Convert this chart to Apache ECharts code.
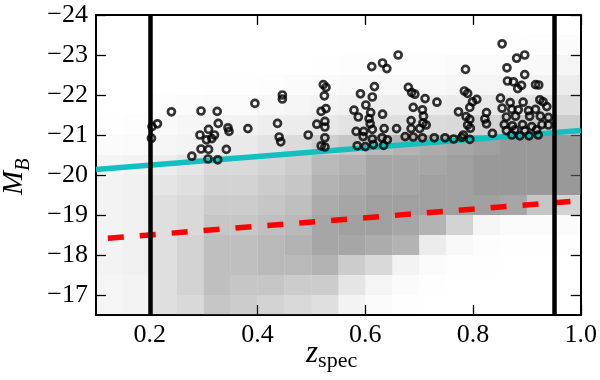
<!DOCTYPE html>
<html>
<head>
<meta charset="utf-8">
<script src="https://cdn.jsdelivr.net/npm/echarts@6/dist/echarts.min.js"></script>
<style>
html,body{margin:0;padding:0;background:#fff;}
#chart{width:600px;height:380px;}
</style>
</head>
<body>
<div id="chart"></div>
<script>
// ---- data ----
const xTicks = [0.2, 0.4, 0.6, 0.8, 1.0];
const yTicks = [-24, -23, -22, -21, -20, -19, -18, -17];

// vertical cut lines (z_spec)
const cutZ = [0.2, 0.95];

// cyan solid relation
const cyanZ = [0.1, 1.0];
const cyanM = [-20.14, -21.11];

// red dashed relation
const redZ = [0.122, 1.0];
const redM = [-18.42, -19.36];

// open circles (selected bright galaxies)
const circleZ = [0.204,0.214,0.203,0.240,0.295,0.325,0.327,0.309,0.293,0.315,0.320,0.305,0.345,0.347,0.382,0.395,0.295,0.309,0.342,0.278,0.308,0.326,
0.437,0.446,0.446,0.440,0.443,0.494,0.522,0.527,0.524,0.518,0.527,0.510,0.525,0.525,0.525,0.518,0.525,
0.612,0.632,0.640,0.661,0.591,0.617,0.613,0.579,0.601,0.610,0.632,0.587,0.607,0.609,0.583,0.597,0.613,0.635,0.596,0.613,0.631,0.641,0.585,0.600,0.615,0.634,0.658,
0.680,0.686,0.692,0.711,0.733,0.689,0.706,0.708,0.685,0.707,0.713,0.685,0.701,0.674,0.689,0.706,0.728,0.748,0.764,0.779,0.786,
0.784,0.790,0.807,0.799,0.794,0.773,0.787,0.794,0.790,0.795,0.782,0.794,0.825,0.822,0.825,0.836,
0.854,0.881,0.896,0.863,0.896,0.864,0.875,0.883,0.890,0.916,0.922,0.851,0.869,0.893,0.924,0.930,
0.854,0.872,0.884,0.903,0.916,0.937,0.862,0.879,0.905,0.925,0.940,0.858,0.873,0.892,0.909,0.928,0.940,
0.862,0.878,0.896,0.918,0.872,0.887,0.904,0.921];
const circleM = [-21.21,-21.28,-20.92,-21.58,-21.60,-21.59,-21.29,-21.14,-21.00,-20.91,-21.00,-20.88,-21.18,-21.09,-21.16,-21.79,-20.65,-20.64,-20.64,-20.47,-20.40,-20.38,
-21.29,-22.00,-21.90,-20.95,-20.83,-21.00,-22.26,-22.19,-21.98,-21.59,-21.66,-21.27,-21.34,-21.20,-20.93,-20.73,-20.70,
-22.71,-22.80,-22.66,-23.00,-22.03,-22.21,-21.95,-21.62,-21.75,-21.56,-21.52,-21.45,-21.41,-21.28,-21.09,-21.09,-21.14,-21.16,-20.96,-20.90,-20.93,-20.88,-20.73,-20.71,-20.76,-20.74,-21.16,
-22.19,-22.06,-22.02,-21.91,-21.82,-21.69,-21.63,-21.47,-21.36,-21.30,-21.25,-21.16,-21.16,-20.96,-20.95,-20.93,-20.93,-20.93,-20.90,-20.94,-22.64,
-22.10,-22.04,-21.89,-21.83,-21.69,-21.58,-21.46,-21.39,-21.25,-21.17,-21.00,-20.89,-21.56,-21.40,-21.28,-21.04,
-23.28,-22.92,-23.00,-22.68,-22.51,-22.35,-22.33,-22.16,-22.24,-22.26,-22.25,-21.92,-21.81,-21.82,-21.88,-21.83,
-21.67,-21.64,-21.63,-21.61,-21.64,-21.71,-21.45,-21.47,-21.47,-21.47,-21.44,-21.26,-21.23,-21.26,-21.21,-21.26,-21.25,
-21.11,-21.13,-21.11,-21.13,-21.00,-20.98,-20.98,-21.00];

// density of the grey galaxy cloud, read by eye (0 = empty ... 8 = densest)
// columns: z bins starting at cloudZ (width 0.05); rows: M bins starting at cloudM (height 0.5)
const cloudZ = [0.10,0.15,0.20,0.25,0.30,0.35,0.40,0.45,0.50,0.55,0.60,0.65,0.70,0.75,0.80,0.85,0.90,0.95];
const cloudM = [-23.5,-23.0,-22.5,-22.0,-21.5,-21.0,-20.5,-20.0,-19.5,-19.0,-18.5,-18.0,-17.5,-17.0];
const cloudDensity = [
 [0,0,0,0,0,0,0,0,0,0,0,0,0,0,0,0.1,0.2,0.3],
 [0,0,0,0,0,0,0,0,0.1,0.2,0.2,0.2,0.2,0.3,0.4,0.4,0.5,0.8],
 [0,0,0,0,0.1,0.1,0.2,0.3,0.4,0.5,0.6,0.6,0.6,0.7,0.8,0.9,1.0,1.5],
 [0,0,0.2,0.3,0.4,0.4,0.6,0.8,1.0,1.2,1.4,1.4,1.5,1.6,1.8,2.0,2.2,2.5],
 [0.1,0.2,0.5,0.7,0.9,1.0,1.3,1.5,1.8,2.2,2.5,2.6,2.8,3.0,3.5,3.8,4.0,4.0],
 [0.3,0.4,0.8,1.0,1.4,1.6,2.2,2.8,3.8,4.5,5.5,6.0,6.5,7.0,7.5,8.0,8.0,8.0],
 [0.8,1.0,1.5,2.0,3.0,3.0,3.5,4.0,5.5,6.0,7.0,7.0,7.0,7.5,8.0,8.0,8.0,8.0],
 [1.0,1.2,2.0,2.5,3.5,3.5,4.0,4.5,6.0,6.5,7.0,7.0,7.5,7.5,8.0,8.0,8.0,8.0],
 [1.0,1.2,2.5,3.0,4.0,4.0,4.5,5.0,6.5,7.0,7.5,7.5,7.5,7.5,7.5,7.0,4.5,3.5],
 [1.0,1.2,2.5,3.0,4.5,4.5,5.0,5.5,7.0,7.5,7.5,7.0,6.0,3.5,0.8,0.3,0.3,0.3],
 [1.0,1.2,2.5,3.5,5.0,5.0,5.5,6.0,7.0,7.0,6.5,6.0,1.5,0.5,0.2,0.1,0.1,0.1],
 [1.0,1.2,2.5,3.5,5.0,5.0,5.5,5.5,6.0,4.0,3.0,1.0,0.3,0.1,0.1,0,0,0],
 [0.8,1.0,2.5,3.5,5.0,4.5,4.5,4.0,4.0,2.0,0.8,0.3,0.1,0,0,0,0,0],
 [0.8,1.0,2.5,3.0,4.5,4.0,3.5,3.0,2.5,1.0,0.3,0.1,0,0,0,0,0,0]
];
const cloudBinZ = 0.05, cloudBinM = 0.5;

// ---- build series data ----
const cloudData = [];
cloudDensity.forEach((row, i) => row.forEach((d, j) => {
  if (d > 0) cloudData.push([cloudZ[j], cloudM[i], d]);
}));
const circleData = circleZ.map((z, i) => [z, circleM[i]]);
const cyanData = cyanZ.map((z, i) => [z, cyanM[i]]);
const redData = redZ.map((z, i) => [z, redM[i]]);

const FONT = "'Liberation Serif', 'DejaVu Serif', serif";
const fmtY = v => (v < 0 ? '\u2212' : '') + Math.abs(v);
const fmtX = v => v.toFixed(1);

const chart = echarts.init(document.getElementById('chart'), null, {renderer: 'canvas'});

const axisCommon = {
  type: 'value',
  axisLine: {show: true, onZero: false, lineStyle: {color: '#000', width: 2}},
  splitLine: {show: false},
  axisTick: {show: true, inside: true, length: 10, lineStyle: {color: '#000', width: 1.3}}
};

chart.setOption({
  animation: false,
  grid: {left: 96, right: 19, top: 15, bottom: 65, containLabel: false},
  xAxis: [
    Object.assign({}, axisCommon, {
      min: 0.1, max: 1.0, position: 'bottom',
      axisTick: Object.assign({}, axisCommon.axisTick, {customValues: xTicks}),
      axisLabel: {customValues: xTicks, formatter: fmtX, color: '#000', fontSize: 26, fontFamily: FONT, margin: 7}
    }),
    Object.assign({}, axisCommon, {
      min: 0.1, max: 1.0, position: 'top',
      axisTick: Object.assign({}, axisCommon.axisTick, {customValues: xTicks}),
      axisLabel: {show: false}
    })
  ],
  yAxis: [
    Object.assign({}, axisCommon, {
      min: -24, max: -16.5, inverse: true, position: 'left',
      axisTick: Object.assign({}, axisCommon.axisTick, {customValues: yTicks}),
      axisLabel: {customValues: yTicks, formatter: fmtY, color: '#000', fontSize: 26, fontFamily: FONT, margin: 8}
    }),
    Object.assign({}, axisCommon, {
      min: -24, max: -16.5, inverse: true, position: 'right',
      axisTick: Object.assign({}, axisCommon.axisTick, {customValues: yTicks}),
      axisLabel: {show: false}
    })
  ],
  graphic: [
    {
      type: 'text', left: 306, top: 338, z: 100,
      style: {
        text: '{z|z}{s|spec}',
        rich: {
          z: {fontSize: 31, fontStyle: 'italic', fontFamily: FONT, fill: '#000', lineHeight: 34, verticalAlign: 'top'},
          s: {fontSize: 22, fontFamily: FONT, fill: '#000', lineHeight: 20, verticalAlign: 'bottom'}
        }
      }
    },
    {
      type: 'text', x: 0, y: 195, rotation: Math.PI / 2, z: 100,
      style: {
        text: '{m|M}{b|B}',
        rich: {
          m: {fontSize: 29, fontStyle: 'italic', fontFamily: FONT, fill: '#000', lineHeight: 34, verticalAlign: 'top'},
          b: {fontSize: 20, fontStyle: 'italic', fontFamily: FONT, fill: '#000', lineHeight: 20, verticalAlign: 'bottom'}
        }
      }
    }
  ],
  series: [
    {
      type: 'custom', z: 1, silent: true,
      data: cloudData,
      renderItem: function (params, api) {
        const z0 = api.value(0), m0 = api.value(1), d = api.value(2);
        const p1 = api.coord([z0, m0]);
        const p2 = api.coord([z0 + cloudBinZ, m0 + cloudBinM]);
        return {
          type: 'rect',
          shape: {
            x: Math.min(p1[0], p2[0]), y: Math.min(p1[1], p2[1]),
            width: Math.abs(p2[0] - p1[0]), height: Math.abs(p2[1] - p1[1])
          },
          style: {fill: '#606060', opacity: Math.min(1, d * 0.08)}
        };
      },
      clip: true
    },
    {
      type: 'line', z: 3, data: redData, symbol: 'none', silent: true,
      lineStyle: {color: '#ff0000', width: 5.5, type: [16, 16], cap: 'butt'}
    },
    {
      type: 'line', z: 4, data: cyanData, symbol: 'none', silent: true,
      lineStyle: {color: '#13bfbf', width: 5.5}
    },
    {
      type: 'scatter', z: 5, data: circleData, symbol: 'circle', symbolSize: 7, silent: true,
      itemStyle: {color: 'rgba(0,0,0,0)', borderColor: '#000', borderWidth: 2.7}
    },
    {
      type: 'line', z: 6, symbol: 'none', silent: true, data: [],
      markLine: {
        silent: true, symbol: 'none', label: {show: false},
        lineStyle: {color: '#000', width: 4.5, type: 'solid'},
        data: cutZ.map(z => ({xAxis: z}))
      }
    }
  ]
});
</script>
</body>
</html>
